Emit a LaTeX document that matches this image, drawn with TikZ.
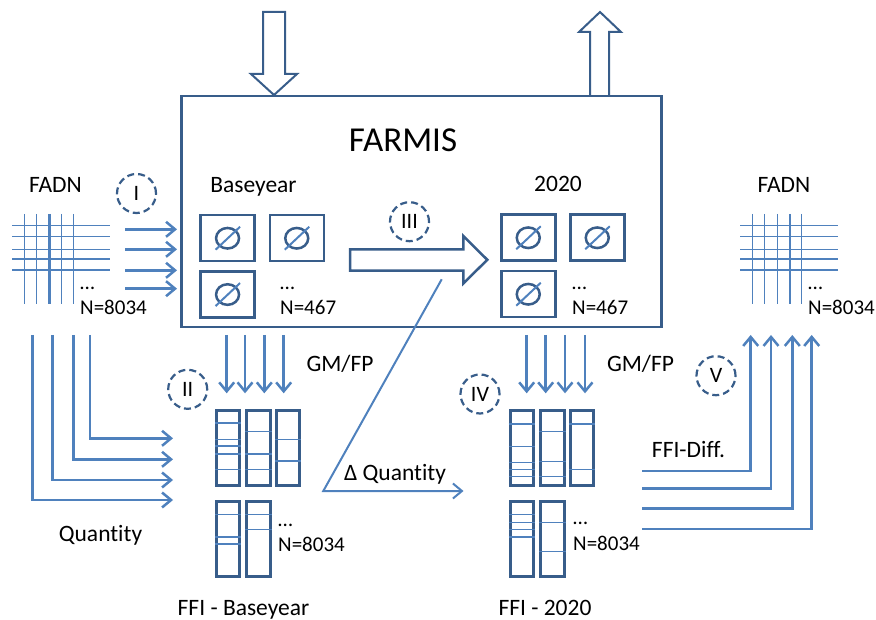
\documentclass[tikz,border=0pt]{standalone}
\usepackage{fontspec}
\setmainfont[Ligatures=NoCommon]{Carlito}
\usetikzlibrary{arrows.meta}
\definecolor{dk}{RGB}{56,93,138}
\definecolor{lt}{RGB}{79,129,189}
\tikzset{
  box/.style={draw=dk, line width=2.5pt, inner sep=0pt},
  ffibox/.style={draw=dk, line width=3pt, inner sep=0pt, minimum width=23.3pt, minimum height=75pt, anchor=north west},
  nobox/.style={draw=dk, line width=2.5pt, inner sep=0pt, minimum width=54pt, minimum height=46pt, anchor=north west},
  inln/.style={draw=lt, line width=1.3pt},
  gridln/.style={draw=lt, line width=1.4pt},
  gridthick/.style={draw=lt, line width=2.8pt},
  arr/.style={draw=lt, line width=2.5pt, -{Straight Barb[length=9pt,width=15pt]}},
  hollow/.style={draw=dk, line width=2pt, fill=white, line join=miter},
  num/.style={circle, draw=dk, dash pattern=on 7pt off 4pt, line width=2.2pt, minimum size=39pt, inner sep=0pt, font=\fontsize{22}{26}\selectfont},
  lbl/.style={font=\fontsize{23.5}{28}\selectfont, inner sep=0pt, anchor=base},
  nlbl/.style={font=\fontsize{21}{25}\selectfont, inner sep=0pt, anchor=base west},
  nosym/.pic={\draw[dk, line width=2.5pt] (0,0) ellipse [x radius=11.5pt, y radius=10.3pt];
              \draw[lt, line width=2pt] (-12,11.5) -- (12.5,-11.5);}
}
\begin{document}
\begin{tikzpicture}[x=1pt,y=-1pt]
\useasboundingbox (0,0) rectangle (876,620);

% main FARMIS box
\node[box, minimum width=480pt, minimum height=231pt, anchor=north west] (farmis) at (180,95) {};
\node[lbl, font=\fontsize{35}{40}\selectfont] (farmisT) at (403,151.7) {FARMIS};

% top hollow arrows
\draw[hollow] (263,12) -- (285,12) -- (285,74) -- (297,74) -- (274,95) -- (251,74) -- (263,74) -- cycle;
\draw[hollow] (590,95) -- (590,32) -- (579,32) -- (600,12) -- (621,32) -- (609,32) -- (609,95);

% labels
\node[lbl] (fadnL) at (55.5,192.3) {FADN};
\node[lbl] (fadnR) at (784,192.3) {FADN};
\node[lbl] (baseT) at (253.5,192.3) {Baseyear};
\node[lbl] (y2020) at (558,191.7) {2020};

% left grid
\foreach \y in {225.5,236.5,249.3,270.2} \draw[gridln] (12,\y) -- (110,\y);
\draw[gridthick] (12,259) -- (110,259);
\foreach \x in {24.3,36.7,61.7,73.3} \draw[gridln] (\x,214) -- (\x,304);
\draw[gridthick] (49.3,214) -- (49.3,304);
\node[nlbl] (dotsL) at (80,289.3) {…};
\node[nlbl] (nL) at (80,315) {N=8034};

% right grid
\foreach \y in {225.5,236.5,249.3,270.2} \draw[gridln] (740,\y) -- (838,\y);
\draw[gridthick] (740,259) -- (838,259);
\foreach \x in {752.7,764.3,777.7,790,801.7} \draw[gridln] (\x,214) -- (\x,304);
\node[nlbl] (dotsR) at (808,289.3) {…};
\node[nlbl] (nR) at (808,315) {N=8034};

% input arrows I
\foreach \y [count=\i] in {229.3,249.3,270.3,288.7} {
  \coordinate (inS\i) at (125,\y);
  \draw[arr] (inS\i) -- ([xshift=-3pt]farmis.west |- inS\i);
}
\node[num] (cI) at (136.5,193.5) {I};

% baseyear average boxes
\node[nobox] (b1) at (199.3,214) {};
\node[nobox] (b2) at (268.5,214) {};
\node[nobox] (b3) at (199.3,270.3) {};
\pic at (b1.center) {nosym};
\pic at (b2.center) {nosym};
\pic at (b3.center) {nosym};
\node[nlbl] (dotsB) at (280,289.3) {…};
\node[nlbl] (nB) at (280,315) {N=467};

% 2020 average boxes
\node[nobox] (c1) at (500,213.5) {};
\node[nobox] (c2) at (569,213.5) {};
\node[nobox] (c3) at (500,270) {};
\pic at (c1.center) {nosym};
\pic at (c2.center) {nosym};
\pic at (c3.center) {nosym};
\node[nlbl] (dotsC) at (572,289.3) {…};
\node[nlbl] (nC) at (572,315) {N=467};

% big hollow arrow III
\draw[hollow, line width=2.5pt] (350,249.3) -- (463.3,249.3) -- (463.3,236) -- (487.3,259.8) -- (463.3,283.5) -- (463.3,270.7) -- (350,270.7) -- cycle;
\node[num] (cIII) at (409.5,221.7) {III};

% GM/FP arrows
\foreach \x [count=\i] in {226.7,245,264.3,283.7} {
  \coordinate (gA\i) at (\x,335);
  \draw[arr] (gA\i) -- (\x,393.3);
}
\foreach \x [count=\i] in {526.7,545.7,565,585} {
  \coordinate (gB\i) at (\x,335);
  \draw[arr] (gB\i) -- (\x,393.3);
}
\node[lbl] (gmL) at (340,371.7) {GM/FP};
\node[lbl] (gmR) at (640.5,371.7) {GM/FP};
\node[num] (cII) at (187.7,389.3) {II};
\node[num] (cIV) at (480,394) {IV};
\node[num] (cV) at (716,375.7) {V};

% FFI baseyear
\node[ffibox] (f1) at (215,409.3) {};
\node[ffibox] (f2) at (245.3,409.3) {};
\node[ffibox] (f3) at (275,409.3) {};
\node[ffibox] (f4) at (215,500) {};
\node[ffibox] (f5) at (245.3,500) {};
\foreach \y in {439.3,446,454,469.3} \draw[inln] (f1.west |- 0,\y) -- (f1.east |- 0,\y);
\draw[inln, line width=2pt] (f1.west |- 0,423.3) -- (f1.east |- 0,423.3);
\foreach \y in {431.7,454,469.3} \draw[inln] (f2.west |- 0,\y) -- (f2.east |- 0,\y);
\foreach \y in {439.3,461} \draw[inln] (f3.west |- 0,\y) -- (f3.east |- 0,\y);
\foreach \y in {514.3,544} \draw[inln] (f4.west |- 0,\y) -- (f4.east |- 0,\y);
\draw[inln, line width=2pt] (f4.west |- 0,536.7) -- (f4.east |- 0,536.7);
\foreach \y in {514.3,529.3} \draw[inln] (f5.west |- 0,\y) -- (f5.east |- 0,\y);
\node[nlbl] (dotsF) at (278,526.7) {…};
\node[nlbl] (nF) at (278,551.7) {N=8034};
\node[lbl] (ffiB) at (243.5,615) {FFI - Baseyear};

% FFI 2020
\node[ffibox] (g1) at (508.5,409.3) {};
\node[ffibox] (g2) at (539.3,409.3) {};
\node[ffibox] (g3) at (569,409.3) {};
\node[ffibox] (g4) at (508.5,500) {};
\node[ffibox] (g5) at (539.3,500) {};
\foreach \y in {424,446.7,462.3,469.3,476.7} \draw[inln] (g1.west |- 0,\y) -- (g1.east |- 0,\y);
\foreach \y in {431.7,461.7,476.7} \draw[inln] (g2.west |- 0,\y) -- (g2.east |- 0,\y);
\foreach \y in {424,469.3} \draw[inln] (g3.west |- 0,\y) -- (g3.east |- 0,\y);
\foreach \y in {514.3,522.7,529.3} \draw[inln] (g4.west |- 0,\y) -- (g4.east |- 0,\y);
\draw[inln, line width=2pt] (g4.west |- 0,536.7) -- (g4.east |- 0,536.7);
\foreach \y in {522.7,551.7} \draw[inln] (g5.west |- 0,\y) -- (g5.east |- 0,\y);
\node[nlbl] (dotsG) at (573,524) {…};
\node[nlbl] (nG) at (573,550) {N=8034};
\node[lbl] (ffi20) at (545,615.7) {FFI - 2020};

% Quantity arrows
\foreach \x/\y [count=\i] in {32.3/500,52.3/480,73.3/459.3,90/438.3} {
  \coordinate (qS\i) at (\x,335);
  \draw[arr] (qS\i) |- ([xshift=-42pt]f1.west |- 0,\y);
}
\node[lbl] (qty) at (100.5,541.7) {Quantity};

% Delta quantity
\coordinate (dS) at (441.7,279.3);
\coordinate (dK) at (323.3,491);
\draw[draw=lt, line width=2pt, -{Straight Barb[length=9pt,width=15pt]}] (dS) -- (dK) -- ([xshift=-45pt]g1.west |- dK);
\node[lbl] (dq) at (395,480.7) {Δ Quantity};

% FFI-Diff arrows
\foreach \y/\x [count=\i] in {471/750.7,488.3/771,508.3/792.3,529/811.7} {
  \coordinate (dfS\i) at (642.3,\y);
  \draw[arr] (dfS\i) -| (\x,335);
}
\node[lbl] (ffid) at (688.5,457.3) {FFI-Diff.};
\end{tikzpicture}
\end{document}
